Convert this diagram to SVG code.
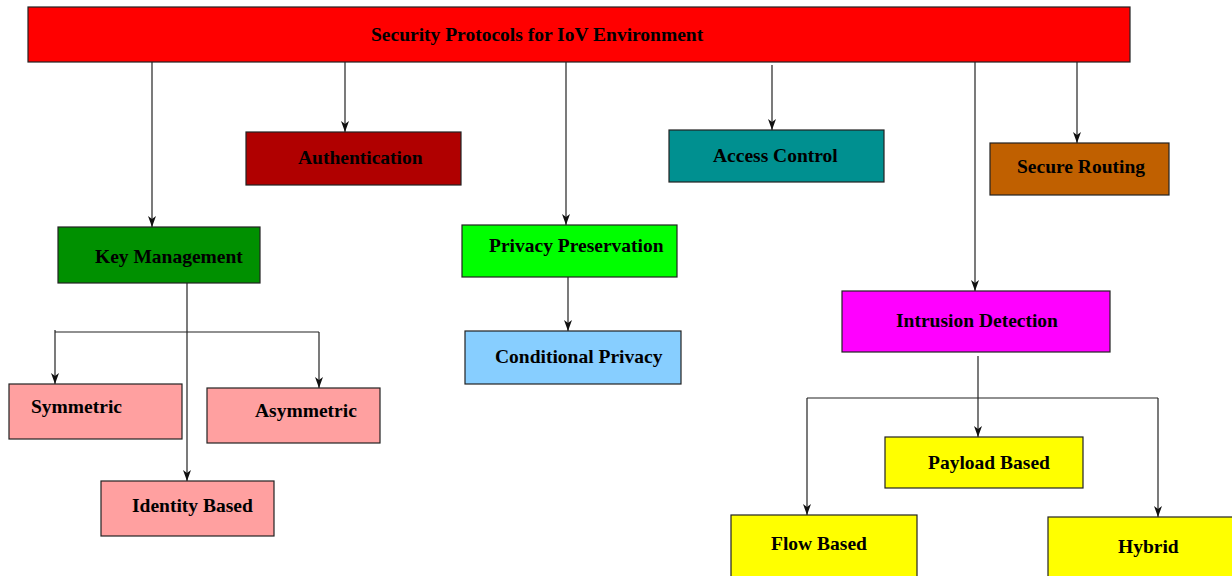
<svg xmlns="http://www.w3.org/2000/svg" width="1232" height="576" viewBox="0 0 1232 576">
  <style>
    .box { stroke: #222; stroke-width: 1.2; }
    .lbl { font-family: "Liberation Serif", "Times New Roman", serif; font-weight: bold; font-size: 19.5px; fill: #000; }
    .wire { fill: none; stroke: #222; stroke-width: 1.2; }
    .arr { marker-end: url(#head); }
  </style>
  <defs>
    <marker id="head" viewBox="0 0 11 8" refX="11" refY="4" markerWidth="11" markerHeight="8" markerUnits="userSpaceOnUse" orient="auto">
      <path d="M0,0 L11,4 L0,8 L3,4 Z" fill="#111"/>
    </marker>
  </defs>
  <rect width="1232" height="576" fill="#fff"/>

  <g id="connectors">
    <!-- root to categories -->
    <path class="wire arr" d="M152,62 V227"/>
    <path class="wire arr" d="M345,62 V132"/>
    <path class="wire arr" d="M566,62 V225"/>
    <path class="wire arr" d="M772,65 V130"/>
    <path class="wire arr" d="M975,62 V291"/>
    <path class="wire arr" d="M1077,62 V143"/>
    <!-- key management branches -->
    <path class="wire arr" d="M187,283 V481"/>
    <path class="wire" d="M55,332 H319"/>
    <path class="wire arr" d="M55,330 V384"/>
    <path class="wire arr" d="M319,332 V388"/>
    <!-- privacy -->
    <path class="wire arr" d="M568,277 V331"/>
    <!-- intrusion detection branches -->
    <path class="wire arr" d="M978,356 V437"/>
    <path class="wire" d="M807,398 H1158"/>
    <path class="wire arr" d="M807,398 V515"/>
    <path class="wire arr" d="M1158,398 V517"/>
  </g>

  <g id="root">
    <rect class="box" x="28" y="7" width="1102" height="55" fill="#ff0000"/>
    <text class="lbl" x="371" y="41">Security Protocols for IoV Environment</text>
  </g>
  <g id="authentication">
    <rect class="box" x="246" y="132" width="215" height="53" fill="#b00000"/>
    <text class="lbl" x="298" y="164">Authentication</text>
  </g>
  <g id="access-control">
    <rect class="box" x="669" y="130" width="215" height="52" fill="#009090"/>
    <text class="lbl" x="713" y="162">Access Control</text>
  </g>
  <g id="secure-routing">
    <rect class="box" x="990" y="143" width="179" height="52" fill="#c06000"/>
    <text class="lbl" x="1017" y="173">Secure Routing</text>
  </g>
  <g id="key-management">
    <rect class="box" x="58" y="227" width="202" height="56" fill="#009000"/>
    <text class="lbl" x="95" y="263">Key Management</text>
  </g>
  <g id="privacy-preservation">
    <rect class="box" x="462" y="225" width="215" height="52" fill="#00ff00"/>
    <text class="lbl" x="489" y="252">Privacy Preservation</text>
  </g>
  <g id="conditional-privacy">
    <rect class="box" x="465" y="331" width="216" height="53" fill="#87ceff"/>
    <text class="lbl" x="495" y="363">Conditional Privacy</text>
  </g>
  <g id="intrusion-detection">
    <rect class="box" x="842" y="291" width="268" height="61" fill="#ff00ff"/>
    <text class="lbl" x="896" y="327">Intrusion Detection</text>
  </g>
  <g id="symmetric">
    <rect class="box" x="9" y="384" width="173" height="55" fill="#ffa0a0"/>
    <text class="lbl" x="31" y="413">Symmetric</text>
  </g>
  <g id="asymmetric">
    <rect class="box" x="207" y="388" width="173" height="55" fill="#ffa0a0"/>
    <text class="lbl" x="255" y="417">Asymmetric</text>
  </g>
  <g id="identity-based">
    <rect class="box" x="101" y="481" width="173" height="55" fill="#ffa0a0"/>
    <text class="lbl" x="132" y="512">Identity Based</text>
  </g>
  <g id="payload-based">
    <rect class="box" x="885" y="437" width="198" height="51" fill="#ffff00"/>
    <text class="lbl" x="928" y="469">Payload Based</text>
  </g>
  <g id="flow-based">
    <rect class="box" x="731" y="515" width="186" height="65" fill="#ffff00"/>
    <text class="lbl" x="771" y="550">Flow Based</text>
  </g>
  <g id="hybrid">
    <rect class="box" x="1048" y="517" width="188" height="65" fill="#ffff00"/>
    <text class="lbl" x="1118" y="553">Hybrid</text>
  </g>
</svg>
